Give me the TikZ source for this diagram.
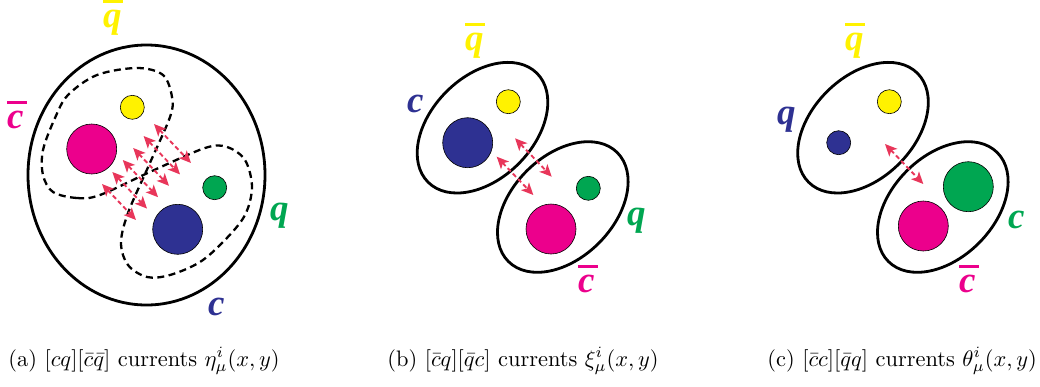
\documentclass[tikz,border=0pt]{standalone}
\usepackage{fontspec}
\usetikzlibrary{arrows.meta}
\newfontfamily\lblfam{Liberation Serif}
\newcommand\lblfont{\fontsize{37}{40}\selectfont\lblfam\bfseries\itshape}
\newcommand\barred[1]{\vbox{\hrule height 2.6pt width 20pt\kern 7pt\hbox{#1}}}
\definecolor{qyel}{RGB}{255,242,0}
\definecolor{qmag}{RGB}{236,0,140}
\definecolor{qgrn}{RGB}{0,166,81}
\definecolor{qblu}{RGB}{46,49,146}
\definecolor{qred}{RGB}{232,54,90}
\tikzset{
 ballstyle/.style={circle, draw=black, line width=0.6pt, inner sep=0pt},
 bigball/.style={ballstyle, minimum size=50pt},
 smallball/.style={ballstyle, minimum size=24pt},
 hadron/.style={draw=black, line width=2.8pt},
 lobe/.style={draw=black, line width=2.3pt, dash pattern=on 7pt off 4.5pt},
 current/.style={draw=qred, line width=1.9pt, dash pattern=on 4.5pt off 3pt,
   {Stealth[length=12pt,width=11pt,inset=3pt]}-{Stealth[length=12pt,width=11pt,inset=3pt]}},
 lbl/.style={anchor=base west, inner sep=0pt, font=\lblfont},
 captext/.style={anchor=base west, inner sep=0pt, scale=2.24, transform shape}
}
\begin{document}
\begin{tikzpicture}[x=1pt,y=-1pt]
\useasboundingbox (0,0) rectangle (1040,386);
% ---------- panel (a)
\draw[hadron] (146.5,175) ellipse [x radius=118.5, y radius=130];
\node[bigball, fill=qmag] (amag) at (91.7,149) {};
\node[smallball, fill=qyel] (ayel) at (132.3,107.3) {};
\node[smallball, fill=qgrn] (agrn) at (214.7,187.7) {};
\node[bigball, fill=qblu] (ablu) at (177.7,229.3) {};
\draw[lobe] plot[smooth cycle, tension=0.55] coordinates {
 (100,195) (77,198) (53,192) (43,175) (43,150) (55,118) (68,95) (97,75)
 (137,68) (163,75) (172,97) (170,117) (149,165) (128,213) (121,243)
 (128,265) (147,277) (170,275) (200,262) (225,240) (245,215) (252,187)
 (245,160) (227,147) (205,148) (152,171)};
\foreach \i in {0,...,5}{
  \coordinate (aU\i) at ({154-10.4*\i},{124+12*\i});
  \coordinate (aL\i) at ({191-11*\i},{163+11.4*\i});
  \draw[current] (aU\i) -- (aL\i);
}
\node[lbl, text=qyel] (aqb) at (103,27) {\barred{q}};
\node[lbl, text=qmag] (acb) at (7,128) {\barred{c}};
\node[lbl, text=qgrn] (aq) at (270,220) {q};
\node[lbl, text=qblu] (ac) at (208,315) {c};
% ---------- panel (b)
\draw[hadron, rotate around={45:(482.5,127.7)}] (482.5,127.7) ellipse [x radius=77, y radius=51];
\draw[hadron, rotate around={45:(562.8,207)}] (562.8,207) ellipse [x radius=77, y radius=51];
\node[smallball, fill=qyel] (byel) at (508.3,101.7) {};
\node[bigball, fill=qblu] (bblu) at (467.7,142.7) {};
\node[smallball, fill=qgrn] (bgrn) at (588.3,188.3) {};
\node[bigball, fill=qmag] (bmag) at (551,229) {};
\coordinate (bU0) at (515,138.3);
\coordinate (bL0) at (551.7,176.7);
\coordinate (bU1) at (496.7,156.7);
\coordinate (bL1) at (533.3,195);
\draw[current] (bU0) -- (bL0);
\draw[current] (bU1) -- (bL1);
\node[lbl, text=qyel] (bqb) at (465,50) {\barred{q}};
\node[lbl, text=qblu] (bc) at (407,112) {c};
\node[lbl, text=qgrn] (bq) at (627,225) {q};
\node[lbl, text=qmag] (bcb) at (578,292) {\barred{c}};
% ---------- panel (c)
\draw[hadron, rotate around={45:(863,127.7)}] (863,127.7) ellipse [x radius=77, y radius=51];
\draw[hadron, rotate around={45:(942.8,207)}] (942.8,207) ellipse [x radius=77, y radius=51];
\node[smallball, fill=qyel] (cyel) at (889.3,101.7) {};
\node[smallball, fill=qblu] (cblu) at (838.7,142.7) {};
\node[bigball, fill=qgrn] (cgrn) at (968.3,186.7) {};
\node[bigball, fill=qmag] (cmag) at (923.3,226) {};
\coordinate (cU0) at (885,144);
\coordinate (cL0) at (923.3,184);
\draw[current] (cU0) -- (cL0);
\node[lbl, text=qyel] (cqb) at (845,50) {\barred{q}};
\node[lbl, text=qblu] (cq) at (777,124) {q};
\node[lbl, text=qgrn] (cc) at (1008,228) {c};
\node[lbl, text=qmag] (ccb) at (959,292) {\barred{c}};
% ---------- captions
\node[captext] (capa) at (8,366) {(a) $[cq][\bar c\bar q]$ currents $\eta^i_\mu(x,y)$};
\node[captext] (capb) at (387,366) {(b) $[\bar cq][\bar qc]$ currents $\xi^i_\mu(x,y)$};
\node[captext] (capc) at (767,366) {(c) $[\bar cc][\bar qq]$ currents $\theta^i_\mu(x,y)$};
\end{tikzpicture}
\end{document}
